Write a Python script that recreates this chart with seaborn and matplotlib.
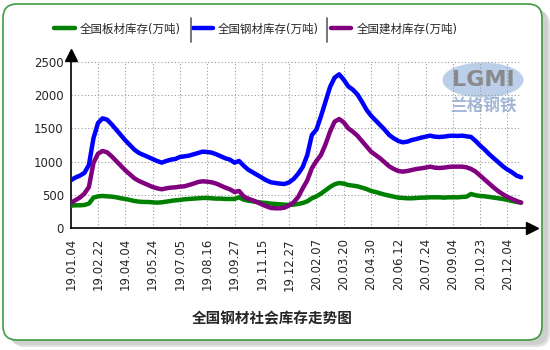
import numpy as np
import pandas as pd
import matplotlib
matplotlib.use("Agg")
import matplotlib.pyplot as plt
import seaborn as sns
from matplotlib.patches import FancyBboxPatch, Ellipse
from matplotlib.lines import Line2D
from matplotlib.transforms import IdentityTransform

# ---------------- data ----------------
tick_labels = ["19.01.04", "19.02.22", "19.04.04", "19.05.24", "19.07.05", "19.08.16",
               "19.09.27", "19.11.15", "19.12.27", "20.02.07", "20.03.20", "20.04.30",
               "20.06.12", "20.07.24", "20.09.04", "20.10.23", "20.12.04"]
series_names = ["全国板材库存(万吨)", "全国钢材库存(万吨)", "全国建材库存(万吨)"]
series_colors = ["#008000", "#0000ff", "#800080"]

plate = [340, 345, 345, 350, 370, 460, 480, 485, 480, 475, 465, 450, 440, 425, 410, 400, 395, 395, 390, 385, 390, 400, 410, 420, 425,
         435, 440, 445, 450, 455, 455, 450, 445, 445, 440, 440, 440, 465, 430, 415, 405, 395, 385, 380, 370, 365, 360, 355, 350, 355, 365, 380, 405,
         450, 480, 520, 570, 620, 660, 680, 670, 650, 640, 630, 610, 590, 560, 545, 525, 505, 490, 475, 460, 455, 450, 450, 455, 460, 460, 465,
         465, 465, 460, 465, 465, 465, 470, 475, 515, 495, 485, 480, 470, 460, 450, 440, 425, 410, 395, 385]
steel = [720, 760, 790, 830, 950, 1350, 1580, 1650, 1630, 1560, 1480, 1400, 1320, 1250, 1180, 1130, 1100, 1070, 1040, 1010, 985, 1010, 1030, 1040, 1070,
         1080, 1090, 1110, 1130, 1150, 1145, 1135, 1110, 1080, 1050, 1030, 985, 1010, 940, 880, 840, 800, 760, 720, 690, 680, 670, 665, 690, 740, 820, 920, 1100,
         1400, 1480, 1680, 1900, 2120, 2260, 2310, 2230, 2130, 2080, 2010, 1900, 1780, 1690, 1620, 1550, 1480, 1400, 1350, 1310, 1290, 1300, 1325, 1340, 1360, 1375, 1390,
         1375, 1370, 1375, 1385, 1390, 1385, 1390, 1380, 1370, 1310, 1240, 1180, 1110, 1050, 990, 930, 880, 840, 790, 765]
construction = [380, 420, 460, 520, 620, 980, 1120, 1160, 1140, 1080, 1010, 940, 870, 810, 750, 710, 680, 650, 620, 600, 585, 600, 610, 615, 625,
                630, 650, 670, 695, 705, 700, 690, 670, 640, 610, 585, 545, 560, 480, 445, 420, 390, 360, 330, 305, 300, 300, 310, 345, 390, 470, 600, 720,
                900, 1010, 1100, 1260, 1450, 1600, 1640, 1590, 1500, 1450, 1390, 1310, 1230, 1150, 1100, 1050, 990, 930, 890, 860, 850, 860, 875, 890, 900, 910, 925,
                910, 905, 910, 920, 925, 925, 925, 915, 890, 850, 790, 730, 670, 610, 555, 510, 470, 440, 410, 385]
y_ticks = [0, 500, 1000, 1500, 2000, 2500]
title = "全国钢材社会库存走势图"

# ---------------- style ----------------
sns.set_style("white")
plt.rcParams['font.family'] = ['DejaVu Sans', 'Noto Sans CJK SC']

week = np.arange(len(steel))
df = pd.DataFrame({
    "week": np.tile(week, 3),
    "value": plate + steel + construction,
    "series": np.repeat(series_names, len(week)),
})

W, H = 550, 350
fig = plt.figure(figsize=(W / 100, H / 100), dpi=100)
fig.patch.set_facecolor("white")

# rounded border with soft shadow
for off, col in ((8, "#e2e2e2"), (6, "#cfcfcf")):
    fig.add_artist(FancyBboxPatch((3 + off, 10 - off + 1), 539, 336, boxstyle="round,pad=0,rounding_size=14",
                                  transform=IdentityTransform(), fc=col, ec="none", zorder=-3))
frame = FancyBboxPatch((3, 10), 539, 336, boxstyle="round,pad=0,rounding_size=14",
                       transform=IdentityTransform(), fc="white", ec="#3f9b3f", lw=1.2, zorder=-2)
fig.add_artist(frame)

# watermark
fig.add_artist(Ellipse((483, H - 80), 80, 34, transform=IdentityTransform(),
                       fc="#8fb0dc", ec="#b8cce8", alpha=0.6, zorder=-1))
fig.text(483 / W, 1 - 80 / H, "LGMI", ha="center", va="center", color="#8a8a8a",
         fontsize=16, fontweight="bold", zorder=-1)
fig.text(483 / W, 1 - 106 / H, "兰格钢铁", ha="center", va="center", color="#a3b7d6",
         fontsize=12, fontweight="bold", family=["Noto Sans CJK SC"], zorder=-1)

x0, x1 = 70.7, 532
y0, y1 = 228.3, 55
ax = fig.add_axes([x0 / W, 1 - y0 / H, (x1 - x0) / W, (y0 - y1) / H])
ax.patch.set_visible(False)

sns.lineplot(data=df, x="week", y="value", hue="series", hue_order=series_names,
             palette=dict(zip(series_names, series_colors)), linewidth=3.2, ax=ax, zorder=3)

ax.set_xlim(0, (x1 - x0) / 4.55)
ax.set_ylim(0, 2600)

# grid (only over the data span)
ax.hlines(y_ticks[1:], week[0], week[-1], colors="#999999", linestyles=(0, (1, 2)), lw=0.8, zorder=1)
ax.vlines(week[::6][1:], 0, y_ticks[-1], colors="#999999", linestyles=(0, (1, 2)), lw=0.8, zorder=1)

ax.set_yticks(y_ticks)
ax.set_xticks(week[::6])
ax.set_xticklabels(tick_labels, rotation=90)
ax.set_xlabel("")
ax.set_ylabel("")
ax.tick_params(axis="y", direction="out", length=3, width=1, color="black", labelsize=8.5, pad=2)
ax.tick_params(axis="x", direction="out", length=4, width=1, color="black", labelsize=8.5, pad=3)

for s in ["top", "right"]:
    ax.spines[s].set_visible(False)
for s in ["left", "bottom"]:
    ax.spines[s].set_linewidth(1.2)
    ax.spines[s].set_color("black")

# arrow heads
ax.plot(1, 0, ">", color="black", markersize=8, transform=ax.transAxes, clip_on=False, zorder=5)
ax.plot(0, 1, "^", color="black", markersize=8, transform=ax.transAxes, clip_on=False, zorder=5)

# legend
sns.move_legend(ax, "center", bbox_to_anchor=(256 / W, 1 - 29 / H), bbox_transform=fig.transFigure,
                ncol=3, frameon=False, title=None, fontsize=8.3, handlelength=1.75,
                handletextpad=0.45, columnspacing=1.05)
for xs in (191, 327):
    fig.add_artist(Line2D([xs / W, xs / W], [1 - 18 / H, 1 - 42 / H], color="#6a6a6a", lw=1.3))

fig.text(272 / W, 1 - 318 / H, title, ha="center", va="center", fontsize=10.5,
         fontweight="bold", family=["Noto Sans CJK SC"])

fig.savefig("out.png", dpi=100)
